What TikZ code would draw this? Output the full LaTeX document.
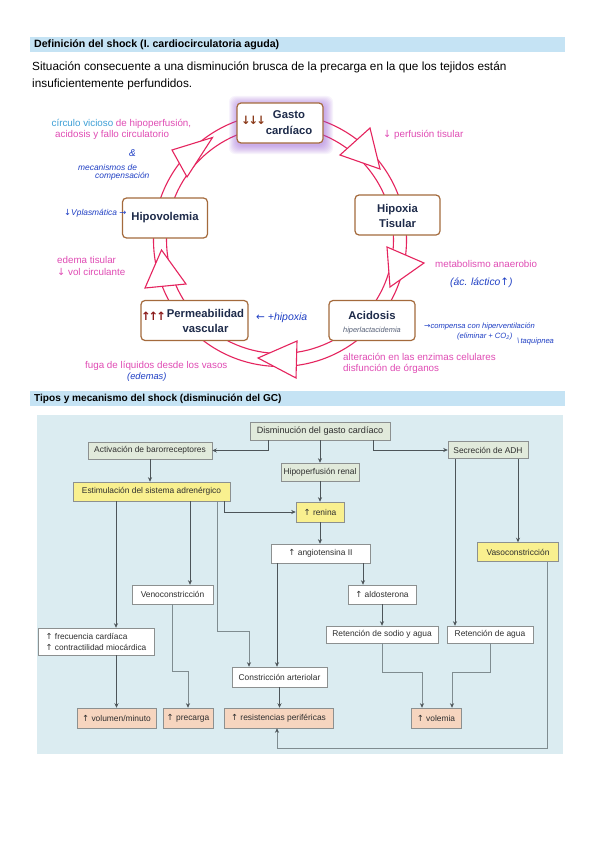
\documentclass[tikz,border=0pt]{standalone}
\usepackage{fontspec}
\setmainfont{Liberation Sans}
\newfontfamily\sym{DejaVu Sans}
\usetikzlibrary{arrows.meta,calc}
\newcommand\fsz[2]{\fontsize{#1}{#2}\selectfont}
\definecolor{ringc}{HTML}{E5245E}
\definecolor{pinkt}{HTML}{E04CB4}
\definecolor{cyant}{HTML}{3D9FD6}
\definecolor{hand}{HTML}{1F3FC4}
\definecolor{boxb}{HTML}{A46A3C}
\definecolor{navy}{HTML}{1E2B4A}
\definecolor{hdr}{HTML}{C5E3F4}
\definecolor{fbg}{HTML}{DBECF1}
\definecolor{fgreen}{HTML}{E1EADB}
\definecolor{fyel}{HTML}{F9F08F}
\definecolor{fpeach}{HTML}{F6D5BF}
\definecolor{fbord}{HTML}{8C9090}
\definecolor{ftext}{HTML}{2E2E2E}
\definecolor{glowc}{HTML}{9A5BD8}
\definecolor{brownarr}{HTML}{8B3A1A}
\definecolor{redarr}{HTML}{8B1A1A}
\definecolor{linedark}{HTML}{4D5559}
\definecolor{linelight}{HTML}{7F8C90}
\begin{document}
\begin{tikzpicture}[x=1pt,y=-1pt,
  cyc/.style={draw=boxb, line width=1.2pt, rounded corners=4pt, fill=white, inner sep=0pt},
  ctext/.style={font=\bfseries\fsz{11.3}{15.5}, text=navy, align=center, inner sep=0pt},
  ring/.style={draw=ringc, line width=1.1pt},
  tri/.style={draw=ringc, line width=1.1pt, fill=white, line join=miter},
  ann/.style={font=\fsz{9.8}{12}, text=pinkt, anchor=west, inner sep=0pt, align=left},
  hw/.style={font=\itshape\fsz{8.4}{9}, text=hand, anchor=west, inner sep=0pt, align=left},
  fb/.style={draw=fbord, line width=0.5pt, inner sep=0pt, font=\fsz{8.4}{10}, text=ftext},
  fgr/.style={fb, fill=fgreen},
  fye/.style={fb, fill=fyel},
  fwh/.style={fb, fill=white},
  fpe/.style={fb, fill=fpeach},
  arr/.style={draw=linedark, line width=0.6pt, -{Stealth[length=4.5pt,width=4pt]}},
  arrl/.style={draw=linelight, line width=0.6pt, -{Stealth[length=4.5pt,width=4pt,color=linedark]}}
]
\useasboundingbox[fill=white] (0,0) rectangle (599,848);

% ---------- header 1 ----------
\fill[hdr] (30,37) rectangle (565,52);
\node[anchor=west, inner sep=0pt, font=\bfseries\fsz{10.6}{12}] (h1) at (34,44.5) {Definición del shock (I. cardiocirculatoria aguda)};
\node[anchor=base west, inner sep=0pt, font=\fsz{11.8}{14}] (b1) at (32,71) {Situación consecuente a una disminución brusca de la precarga en la que los tejidos están};
\node[anchor=base west, inner sep=0pt, font=\fsz{11.8}{14}] (b2) at (32,88) {insuficientemente perfundidos.};

% ---------- cycle ----------
\draw[ring] (280,240) circle[radius=126.5];
\draw[ring] (280,240) circle[radius=113.5];
\draw[tri] (172,150) -- (212.5,137.5) -- (187,177) -- cycle;
\draw[tri] (340,155) -- (370,128) -- (380,169) -- cycle;
\draw[tri] (387,247) -- (424,263) -- (390,287) -- cycle;
\draw[tri] (258,358) -- (297,341) -- (296,378) -- cycle;
\draw[tri] (161.5,250) -- (186,284) -- (145,288) -- cycle;

% glow
\foreach \i in {1,...,9}
  \fill[glowc, opacity=0.07, rounded corners=6pt] (237-\i+1,103-\i+2) rectangle (323+\i+1,143+\i+2);

\node[cyc, minimum width=86pt, minimum height=40pt] (gasto) at (280,123) {};
\node[ctext] (gastoT) at (289,122.5) {Gasto\\cardíaco};
\node[inner sep=0pt, font=\sym\bfseries\fsz{11.5}{12}, text=brownarr] (gastoA) at (253.5,120) {↓\kern-2pt↓\kern-2pt↓};

\node[cyc, minimum width=85pt, minimum height=40pt] (hipox) at (397.5,215) {};
\node[ctext] (hipoxT) at (397.5,216) {Hipoxia\\Tisular};

\node[cyc, minimum width=85pt, minimum height=40pt] (hipov) at (165,218) {};
\node[ctext] (hipovT) at (165,218) {Hipovolemia};

\node[cyc, minimum width=107pt, minimum height=40pt] (perm) at (194.5,320.5) {};
\node[ctext] (permT) at (205.5,321) {Permeabilidad\\vascular};
\node[inner sep=0pt, font=\sym\bfseries\fsz{11.5}{12}, text=redarr] (permA) at (153.5,316) {↑\kern-2pt↑\kern-2pt↑};

\node[cyc, minimum width=86pt, minimum height=40pt] (acid) at (372,320.5) {};
\node[ctext] (acidT) at (372,315) {Acidosis};
\node[inner sep=0pt, font=\itshape\fsz{7.4}{8}, text=navy!75] (acidS) at (372,330.5) {hiperlactacidemia};

% annotations
\node[ann] (a1) at (51.5,123.5) {\textcolor{cyant}{círculo vicioso} de hipoperfusión,};
\node[ann] (a2) at (55,135) {acidosis y fallo circulatorio};
\node[hw, font=\itshape\fsz{10}{11}] (a3) at (129,153) {\&};
\node[hw] (a4) at (78,167) {mecanismos de};
\node[hw] (a5) at (95,176.5) {compensación};
\node[hw] (a6) at (64,213) {{\sym↓}Vplasmática {\sym→}};
\node[ann] (a7) at (383,135) {{\sym↓} perfusión tisular};
\node[ann] (a8) at (57,260) {edema tisular};
\node[ann] (a9) at (57,272) {{\sym↓} vol circulante};
\node[hw, font=\itshape\fsz{10.5}{12}] (a10) at (256,318) {{\sym←} +hipoxia};
\node[ann] (a11) at (85,366) {fuga de líquidos desde los vasos};
\node[hw, font=\itshape\fsz{9.3}{10}] (a12) at (127,377.5) {(edemas)};
\node[ann] (a13) at (435,264) {metabolismo anaerobio};
\node[hw, font=\itshape\fsz{10.3}{11}] (a14) at (450,283) {(ác. láctico{\sym↑})};
\node[hw, font=\itshape\fsz{7.6}{8.5}] (a15) at (424,326) {{\sym→}compensa con hiperventilación};
\node[hw, font=\itshape\fsz{7.6}{8.5}] (a16) at (457,337) {(eliminar + CO\textsubscript{2})};
\node[hw, font=\itshape\fsz{7.6}{8.5}] (a17) at (517,341.5) {\textbackslash\,taquipnea};
\node[ann] (a18) at (343,357) {alteración en las enzimas celulares};
\node[ann] (a19) at (343,369) {disfunción de órganos};

% ---------- header 2 ----------
\fill[hdr] (30,391) rectangle (565,406);
\node[anchor=west, inner sep=0pt, font=\bfseries\fsz{10.1}{12}] (h2) at (34,398.5) {Tipos y mecanismo del shock (disminución del GC)};

% ---------- flowchart ----------
\fill[fbg] (37,415) rectangle (563,754);

\node[fgr, minimum width=140pt, minimum height=18pt, font=\fsz{9.1}{10}] (dis) at (320,431) {Disminución del gasto cardíaco};
\node[fgr, minimum width=124pt, minimum height=17pt] (act) at (150,450.5) {Activación de barorreceptores};
\node[fgr, minimum width=78pt, minimum height=18pt] (hip) at (320,472) {Hipoperfusión renal};
\node[fgr, minimum width=80pt, minimum height=17pt] (adh) at (488,450) {Secreción de ADH};
\node[fye, minimum width=157pt, minimum height=19pt] (est) at (151.5,491.5) {Estimulación del sistema adrenérgico};
\node[fye, minimum width=48pt, minimum height=20pt] (ren) at (320,512) {{\sym↑} renina};
\node[fwh, minimum width=99pt, minimum height=19pt] (ang) at (320.5,553.5) {{\sym↑} angiotensina II};
\node[fye, minimum width=81pt, minimum height=19pt] (vas) at (518,552) {Vasoconstricción};
\node[fwh, minimum width=68pt, minimum height=19pt] (ald) at (382,594.5) {{\sym↑} aldosterona};
\node[fwh, minimum width=112pt, minimum height=17pt] (rsa) at (382,634.5) {Retención de sodio y agua};
\node[fwh, minimum width=86pt, minimum height=17pt] (rag) at (490,634.5) {Retención de agua};
\node[fwh, minimum width=81pt, minimum height=19pt] (ven) at (172.5,594.5) {Venoconstricción};
\node[fwh, minimum width=116pt, minimum height=27pt, align=left, font=\fsz{8.3}{11}] (frc) at (96,641.5) {{\sym↑} frecuencia cardíaca\\{\sym↑} contractilidad miocárdica};
\node[fwh, minimum width=95pt, minimum height=20pt] (con) at (279.5,677) {Constricción arteriolar};
\node[fpe, minimum width=109pt, minimum height=20pt] (res) at (278.5,718) {{\sym↑} resistencias periféricas};
\node[fpe, minimum width=79pt, minimum height=20pt] (vol) at (116.5,718) {{\sym↑} volumen/minuto};
\node[fpe, minimum width=50pt, minimum height=20pt] (pre) at (188,718) {{\sym↑} precarga};
\node[fpe, minimum width=50pt, minimum height=20pt] (vlm) at (436,718) {{\sym↑} volemia};

\draw[arr] ([xshift=-52pt]dis.south) |- (act.east);
\draw[arr] ([xshift=53pt]dis.south) |- (adh.west);
\draw[arr] (dis.south) -- (hip.north);
\draw[arr] (act.south) -- (act.south |- est.north);
\draw[arr] (hip.south) -- (ren.north);
\draw[arr] ([xshift=72.5pt]est.south) |- (ren.west);
\draw[arr] (ren.south) -- (ren.south |- ang.north);
\coordinate (e1) at ([xshift=-35.5pt]est.south);
\draw[arr] (e1) -- (e1 |- frc.north);
\coordinate (e2) at ([xshift=38.5pt]est.south);
\draw[arr] (e2) -- (e2 |- ven.north);
\coordinate (e3) at ([xshift=65.5pt]est.south);
\draw[arrl] (e3) -- ++(0,130) -| ([xshift=-30.5pt]con.north);
\coordinate (e4) at ([xshift=-43.5pt]ang.south);
\draw[arr] (e4) -- (e4 |- con.north);
\coordinate (e5) at ([xshift=42.5pt]ang.south);
\draw[arr] (e5) -- (e5 |- ald.north);
\draw[arr] (ald.south) -- (ald.south |- rsa.north);
\coordinate (e6) at ([xshift=30pt]adh.south);
\draw[arr] (e6) -- (e6 |- vas.north);
\coordinate (e7) at ([xshift=-33pt]adh.south);
\draw[arr] (e7) -- (e7 |- rag.north);
\draw[arr] (vol.north |- frc.south) -- (vol.north);
\draw[arrl] (ven.south) -- ++(0,67.5) -| (pre.north);
\draw[arr] (con.south) -- (con.south |- res.north);
\draw[arrl] (rsa.south) -- ++(0,29) -| ([xshift=-14pt]vlm.north);
\draw[arrl] (rag.south) -- ++(0,29) -| ([xshift=16pt]vlm.north);
\coordinate (e8) at ([xshift=29pt]vas.south);
\draw[arrl] (e8) -- ++(0,186.5) -| ([xshift=-1.5pt]res.south);
\end{tikzpicture}
\end{document}
